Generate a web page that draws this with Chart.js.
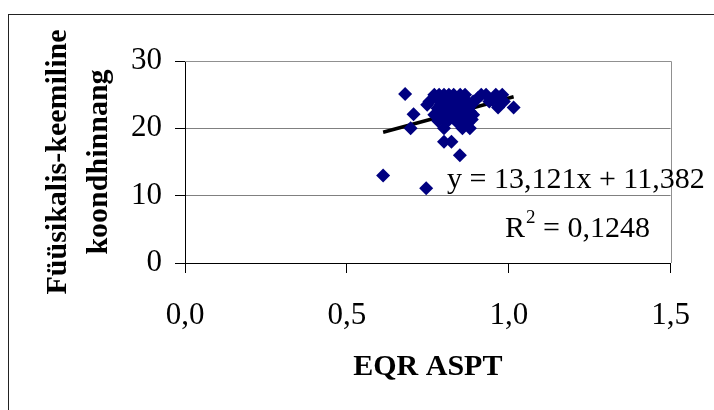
<!DOCTYPE html>
<html>
<head>
<meta charset="utf-8">
<script src="https://cdn.jsdelivr.net/npm/chart.js@4.4.1/dist/chart.umd.min.js"></script>
<style>
  body { margin: 0; background: #fff; }
  #wrap { width: 714px; height: 410px; }
</style>
</head>
<body>
<div id="wrap"><canvas id="chart" width="714" height="410"></canvas></div>
<script>
// EQR ASPT vs physico-chemical score
const eqrAspt = [
    0.612, 0.745, 0.680, 0.706, 0.697, 0.849, 0.800, 0.823, 0.800, 0.782,
    1.015, 0.967, 0.857, 0.880, 0.886, 0.874, 0.843,
    0.770, 0.785, 0.800, 0.815, 0.830, 0.850, 0.865, 0.915, 0.930, 0.960, 0.980,
    0.755, 0.790, 0.810, 0.840, 0.870, 0.890, 0.940, 0.985,
    0.780, 0.805, 0.830, 0.855, 0.875,
    0.810, 0.840, 0.860, 0.748,
    0.775, 0.820, 0.860, 0.905,
    0.790, 0.820, 0.845, 0.865, 0.885,
    0.790, 0.820, 0.850, 0.880,
    0.800, 0.830, 0.855, 0.870,
    0.810, 0.770, 0.890, 0.950, 0.970
];
const koondhinnang = [
    13.0, 11.1, 25.1, 22.1, 20.0, 16.0, 18.0, 18.0, 20.0, 21.1,
    23.1, 23.1, 20.0, 20.0, 21.3, 20.8, 20.8,
    25.0, 25.0, 25.0, 25.0, 25.0, 25.0, 25.0, 25.0, 25.0, 25.0, 25.0,
    24.0, 24.0, 24.0, 24.0, 24.0, 24.0, 24.0, 24.0,
    23.0, 23.0, 23.0, 23.0, 23.0,
    22.0, 22.0, 22.0, 23.5,
    24.5, 24.5, 24.5, 24.5,
    23.5, 23.5, 23.5, 23.5, 23.5,
    22.5, 22.5, 22.5, 22.5,
    21.5, 21.5, 21.5, 21.5,
    21.0, 22.0, 22.0, 24.2, 24.6
];

// trend line as printed on the chart
const slope = 13.121;
const intercept = 11.382;
const trendX = [0.612, 1.015];
const equationText = "y = 13,121x + 11,382";
const r2Value = "0,1248";

const xTicks = [0, 0.5, 1.0, 1.5];
const yTicks = [0, 10, 20, 30];

const points = eqrAspt.map((x, i) => ({ x: x, y: koondhinnang[i] }));
const trend = trendX.map(x => ({ x: x, y: slope * x + intercept }));

const serif = "'Liberation Serif', 'Times New Roman', serif";

const framePlugin = {
    id: "frame",
    beforeDraw(chart) {
        const ctx = chart.ctx;
        ctx.save();
        ctx.strokeStyle = "#222";
        ctx.lineWidth = 1;
        ctx.strokeRect(8.5, 14.5, 800, 500);
        ctx.restore();
    },
    beforeDatasetsDraw(chart) {
        const { ctx, chartArea: a } = chart;
        ctx.save();
        ctx.strokeStyle = "#909090";
        ctx.lineWidth = 1;
        ctx.beginPath();
        ctx.moveTo(a.left, Math.round(a.top) + 0.5);
        ctx.lineTo(Math.round(a.right) + 0.5, Math.round(a.top) + 0.5);
        ctx.lineTo(Math.round(a.right) + 0.5, a.bottom);
        ctx.stroke();
        ctx.restore();
    },
    afterDatasetsDraw(chart) {
        const ctx = chart.ctx;
        ctx.save();
        ctx.fillStyle = "#000";
        ctx.textBaseline = "alphabetic";
        ctx.font = "30px " + serif;
        ctx.fillText(equationText, 447, 188);
        ctx.fillText("R", 505, 237);
        const rw = ctx.measureText("R").width;
        ctx.font = "19px " + serif;
        ctx.fillText("2", 505 + rw + 1, 223);
        const sw = ctx.measureText("2").width;
        ctx.font = "30px " + serif;
        ctx.fillText(" = " + r2Value, 505 + rw + sw + 1, 237);
        ctx.restore();
    }
};

new Chart(document.getElementById("chart"), {
    type: "scatter",
    data: {
        datasets: [{
            label: "Füüsikalis-keemiline koondhinnang",
            data: points,
            pointStyle: "rectRot",
            pointRadius: 7,
            pointHoverRadius: 7,
            backgroundColor: "#000080",
            borderColor: "#000080",
            borderWidth: 0
        }, {
            type: "line",
            label: "Trend",
            data: trend,
            borderColor: "#000",
            borderWidth: 3.5,
            pointRadius: 0,
            fill: false
        }]
    },
    options: {
        responsive: false,
        animation: false,
        devicePixelRatio: 1,
        layout: { padding: { left: 0, top: 61, right: 36.6, bottom: 0 } },
        plugins: {
            legend: { display: false },
            tooltip: { enabled: false }
        },
        scales: {
            x: {
                type: "linear",
                min: 0,
                max: 1.5,
                afterFit(scale) { scale.height = 147; },
                afterBuildTicks(scale) { scale.ticks = xTicks.map(v => ({ value: v })); },
                ticks: {
                    color: "#000",
                    font: { family: serif, size: 31 },
                    padding: 24,
                    callback: v => v.toFixed(1).replace(".", ",")
                },
                grid: { drawOnChartArea: false, drawTicks: true, tickLength: 10, color: "#000" },
                border: { color: "#000", width: 1 },
                title: {
                    display: true,
                    text: "EQR ASPT",
                    color: "#000",
                    font: { family: serif, size: 30, weight: "bold", lineHeight: 1.2 },
                    padding: { top: 0, bottom: 25 }
                }
            },
            y: {
                min: 0,
                max: 30,
                afterFit(scale) { scale.width = 185; },
                afterBuildTicks(scale) { scale.ticks = yTicks.map(v => ({ value: v })); },
                ticks: {
                    color: "#000",
                    font: { family: serif, size: 31 },
                    padding: 13
                },
                grid: {
                    color: c => (c.tick && c.tick.value === 0) ? "#000" : "#808080",
                    tickColor: "#000",
                    tickLength: 10
                },
                border: { color: "#000", width: 1 },
                title: {
                    display: true,
                    text: ["Füüsikalis-keemiline", "koondhinnang"],
                    color: "#000",
                    font: { family: serif, size: 30, weight: "bold", lineHeight: 1.37 },
                    padding: { top: 38, bottom: 0 }
                }
            }
        }
    },
    plugins: [framePlugin]
});
</script>
</body>
</html>
